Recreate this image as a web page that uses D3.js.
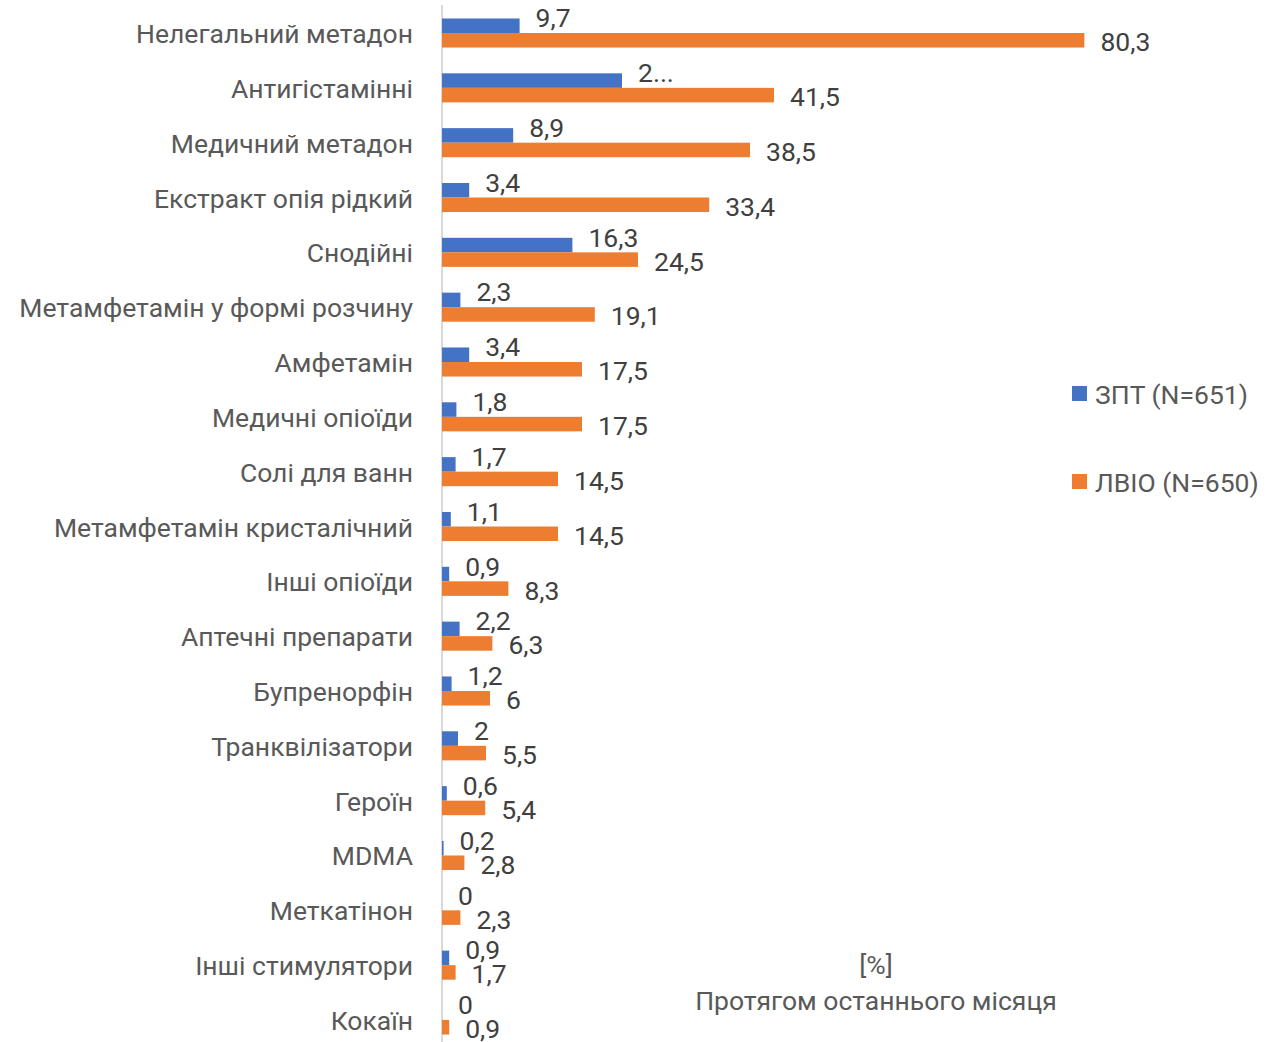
<!DOCTYPE html>
<html>
<head>
<meta charset="utf-8">
<script src="https://cdn.jsdelivr.net/npm/d3@7"></script>
<style>
  body { margin: 0; background: #fff; }
  text { font-family: Roboto, "Open Sans", sans-serif; }
</style>
</head>
<body>
<div id="chart"></div>
<script>
var categories = [
  "Нелегальний метадон", "Антигістамінні", "Медичний метадон", "Екстракт опія рідкий",
  "Снодійні", "Метамфетамін у формі розчину", "Амфетамін", "Медичні опіоїди",
  "Солі для ванн", "Метамфетамін кристалічний", "Інші опіоїди", "Аптечні препарати",
  "Бупренорфін", "Транквілізатори", "Героїн", "MDMA", "Меткатінон",
  "Інші стимулятори", "Кокаїн"
];
var zpt = [9.7, 22.5, 8.9, 3.4, 16.3, 2.3, 3.4, 1.8, 1.7, 1.1, 0.9, 2.2, 1.2, 2, 0.6, 0.2, 0, 0.9, 0];
var lvio = [80.3, 41.5, 38.5, 33.4, 24.5, 19.1, 17.5, 17.5, 14.5, 14.5, 8.3, 6.3, 6, 5.5, 5.4, 2.8, 2.3, 1.7, 0.9];
// label of the second blue bar is cut off in the original
var zptLabels = ["9,7", "2...", "8,9", "3,4", "16,3", "2,3", "3,4", "1,8", "1,7", "1,1", "0,9", "2,2", "1,2", "2", "0,6", "0,2", "0", "0,9", "0"];
var seriesNames = ["ЗПТ (N=651)", "ЛВІО (N=650)"];

var width = 1286;
var height = 1042;
var colors = ["#4472C4", "#ED7D31"];
var fs = 26.5;

var svg = d3.select("#chart").append("svg")
  .attr("width", width)
  .attr("height", height);

var x = d3.scaleLinear().domain([0, 90]).range([442, 1162]);
var y = d3.scaleBand().domain(categories).range([5.6, 1047.4]).paddingInner(0.47).paddingOuter(0.235);
var ys = d3.scaleBand().domain([0, 1]).range([0, y.bandwidth()]);

var fmt = function (v) { return String(v).replace(".", ","); };

// axis line
svg.append("line")
  .attr("x1", 442).attr("x2", 442)
  .attr("y1", 5).attr("y2", height)
  .attr("stroke", "#d9d9d9").attr("stroke-width", 2);

// category labels
svg.selectAll(".cat")
  .data(categories)
  .enter().append("text")
  .attr("x", 413)
  .attr("y", function (d) { return y(d) + y.bandwidth() / 2 + 10; })
  .attr("text-anchor", "end")
  .attr("font-size", fs)
  .attr("fill", "#595959")
  .text(function (d) { return d; });

var series = [zpt, lvio];
series.forEach(function (vals, s) {
  svg.selectAll(".bar" + s)
    .data(vals)
    .enter().append("rect")
    .attr("x", x(0))
    .attr("y", function (d, i) { return y(categories[i]) + ys(s); })
    .attr("width", function (d) { return x(d) - x(0); })
    .attr("height", ys.bandwidth())
    .attr("fill", colors[s]);

  svg.selectAll(".lbl" + s)
    .data(vals)
    .enter().append("text")
    .attr("x", function (d) { return x(d) + 16; })
    .attr("y", function (d, i) {
      return y(categories[i]) + ys(s) + ys.bandwidth() / 2 + (s === 0 ? 1.5 : 11);
    })
    .attr("font-size", fs)
    .attr("fill", "#404040")
    .text(function (d, i) { return s === 0 ? zptLabels[i] : fmt(d); });
});

// legend
var legendY = [394, 482];
seriesNames.forEach(function (name, s) {
  svg.append("rect")
    .attr("x", 1072).attr("y", legendY[s] - 8)
    .attr("width", 15).attr("height", 15)
    .attr("fill", colors[s]);
  svg.append("text")
    .attr("x", 1095).attr("y", legendY[s] + 10)
    .attr("font-size", fs)
    .attr("fill", "#595959")
    .text(name);
});

// axis title
svg.append("text")
  .attr("x", 876).attr("y", 974)
  .attr("text-anchor", "middle")
  .attr("font-size", fs).attr("fill", "#595959")
  .text("[%]");
svg.append("text")
  .attr("x", 876).attr("y", 1010)
  .attr("text-anchor", "middle")
  .attr("font-size", fs).attr("fill", "#595959")
  .text("Протягом останнього місяця");
</script>
</body>
</html>
